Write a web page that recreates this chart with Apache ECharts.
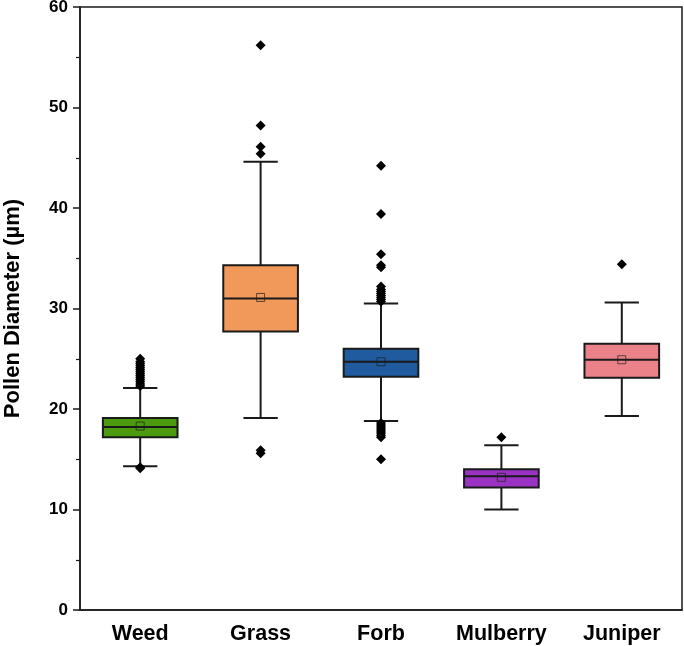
<!DOCTYPE html>
<html>
<head>
<meta charset="utf-8">
<script src="https://cdn.jsdelivr.net/npm/echarts@6/dist/echarts.min.js"></script>
<style>html,body{margin:0;padding:0;background:#fff;}#c{width:684px;height:646px;}</style>
</head>
<body>
<div id="c"></div>
<script>
const categories = ['Weed', 'Grass', 'Forb', 'Mulberry', 'Juniper'];
const whiskerLow = [14.3, 19.1, 18.8, 10.0, 19.3];
const q1 = [17.2, 27.7, 23.2, 12.2, 23.1];
const median = [18.2, 31.0, 24.7, 13.3, 24.9];
const q3 = [19.1, 34.3, 26.0, 14.0, 26.5];
const whiskerHigh = [22.1, 44.6, 30.5, 16.4, 30.6];
const means = [18.3, 31.1, 24.7, 13.2, 24.9];
const weedOutliers = [14.1, 14.2, 22.3, 22.5, 22.7, 22.9, 23.1, 23.3, 23.5, 23.7, 23.9, 24.1, 24.3, 24.5, 24.7, 25.0];
const grassOutliers = [15.6, 15.9, 45.4, 46.1, 48.2, 56.2];
const forbOutliers = [15.0, 17.2, 17.4, 17.6, 17.8, 18.0, 18.2, 18.4, 18.6, 30.7, 30.9, 31.1, 31.3, 31.5, 31.7, 31.9, 32.2, 34.1, 34.3, 35.4, 39.4, 44.2];
const mulberryOutliers = [17.2];
const juniperOutliers = [34.4];
const boxColors = ['#4C9A0E', '#F0995A', '#1F5B9E', '#9A33C2', '#EC8289'];
const yTicks = [0, 10, 20, 30, 40, 50, 60];

const outlierGroups = [weedOutliers, grassOutliers, forbOutliers, mulberryOutliers, juniperOutliers];
const boxData = categories.map((c, i) => [i, whiskerLow[i], q1[i], median[i], q3[i], whiskerHigh[i], means[i]]);
const outlierData = [];
outlierGroups.forEach((g, i) => g.forEach(v => outlierData.push([i, v])));

const FONT = '"Liberation Sans", Arial, sans-serif';
const chart = echarts.init(document.getElementById('c'), null, {renderer: 'canvas'});

function renderBox(params, api) {
  const i = api.value(0);
  const band = api.size([1, 0])[0];
  const bw = band * 0.62;
  const cw = band * 0.285;
  const pLow = api.coord([i, api.value(1)]);
  const pQ1 = api.coord([i, api.value(2)]);
  const pMed = api.coord([i, api.value(3)]);
  const pQ3 = api.coord([i, api.value(4)]);
  const pHigh = api.coord([i, api.value(5)]);
  const pMean = api.coord([i, api.value(6)]);
  const x = pMed[0];
  const ls = {stroke: '#1a1a1a', lineWidth: 2};
  return {
    type: 'group',
    children: [
      {type: 'line', shape: {x1: x, y1: pHigh[1], x2: x, y2: pQ3[1]}, style: ls},
      {type: 'line', shape: {x1: x, y1: pQ1[1], x2: x, y2: pLow[1]}, style: ls},
      {type: 'line', shape: {x1: x - cw / 2, y1: pHigh[1], x2: x + cw / 2, y2: pHigh[1]}, style: ls},
      {type: 'line', shape: {x1: x - cw / 2, y1: pLow[1], x2: x + cw / 2, y2: pLow[1]}, style: ls},
      {type: 'rect', shape: {x: x - bw / 2, y: pQ3[1], width: bw, height: pQ1[1] - pQ3[1]},
        style: {fill: boxColors[i], stroke: '#1a1a1a', lineWidth: 2}},
      {type: 'line', shape: {x1: x - bw / 2, y1: pMed[1], x2: x + bw / 2, y2: pMed[1]}, style: ls},
      {type: 'rect', shape: {x: x - 4, y: pMean[1] - 4, width: 8, height: 8},
        style: {fill: 'none', stroke: 'rgba(30,30,30,0.7)', lineWidth: 1}}
    ]
  };
}

chart.setOption({
  animation: false,
  backgroundColor: '#fff',
  grid: {left: 80, right: 2, top: 7, bottom: 36, show: true, borderColor: '#1a1a1a', borderWidth: 1.5,
    containLabel: false, outerBoundsMode: 'none'},
  xAxis: {
    type: 'category',
    data: categories,
    axisLine: {lineStyle: {color: '#1a1a1a', width: 1.5}},
    axisTick: {alignWithLabel: true, inside: false, length: 6, lineStyle: {color: '#1a1a1a', width: 1.5}},
    axisLabel: {color: '#000', fontFamily: FONT, fontWeight: 'bold', fontSize: 21.5, margin: 13},
    splitLine: {show: false}
  },
  yAxis: {
    type: 'value',
    min: 0, max: 60, interval: 10,
    name: 'Pollen Diameter (µm)',
    nameLocation: 'middle',
    nameGap: 56,
    nameTextStyle: {color: '#000', fontFamily: FONT, fontWeight: 'bold', fontSize: 22},
    axisLine: {show: true, lineStyle: {color: '#1a1a1a', width: 1.5}},
    axisTick: {show: true, length: 7, lineStyle: {color: '#1a1a1a', width: 1.5}},
    minorTick: {show: true, splitNumber: 2, length: 4, lineStyle: {color: '#1a1a1a', width: 1.2}},
    axisLabel: {color: '#000', fontFamily: FONT, fontWeight: 'bold', fontSize: 17, margin: 12,
      formatter: v => yTicks.includes(v) ? String(v) : ''},
    splitLine: {show: false}
  },
  series: [
    {
      type: 'custom',
      renderItem: renderBox,
      data: boxData,
      encode: {x: 0, y: [1, 2, 3, 4, 5]},
      z: 2
    },
    {
      type: 'scatter',
      data: outlierData,
      symbol: 'diamond',
      symbolSize: 10,
      itemStyle: {color: '#000', opacity: 1},
      z: 3
    }
  ]
});
</script>
</body>
</html>
